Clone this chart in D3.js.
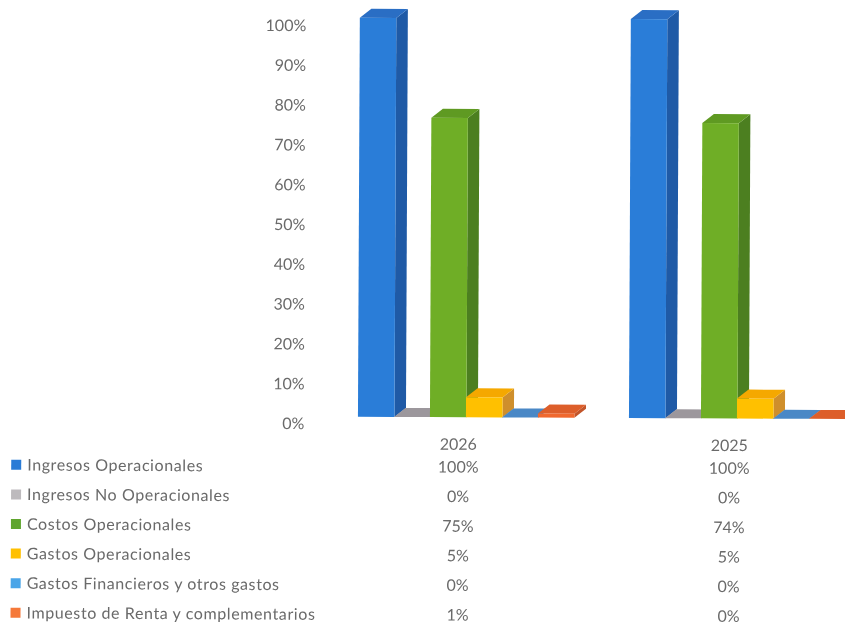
<!DOCTYPE html>
<html>
<head>
<meta charset="utf-8">
<script src="https://cdn.jsdelivr.net/npm/d3@7"></script>
<style>
  html, body { margin: 0; padding: 0; background: #fff; }
  text { font-family: Lato, "Open Sans", sans-serif; fill: #6a6a6a; }
</style>
</head>
<body>
<div id="container"></div>
<script>
/* DATA */
const years = ["2026", "2025"];
const categories = [
  "Ingresos Operacionales",
  "Ingresos No Operacionales",
  "Costos Operacionales",
  "Gastos Operacionales",
  "Gastos Financieros y otros gastos",
  "Impuesto de Renta y complementarios"
];
const values2026 = [100, 0, 75, 5, 0, 1];
const values2025 = [100, 0, 74, 5, 0, 0];
const yTicks = [0, 10, 20, 30, 40, 50, 60, 70, 80, 90, 100];

/* COLORS */
const frontColors = ["#2a7dd8", "#a8a4a8", "#6fae26", "#ffc000", "#4a8fd0", "#f0682e"];
const topColors = ["#2a6ec4", "#9c979c", "#5f9a22", "#f5a800", "#4a88c6", "#dd5e2a"];
const sideColors = ["#1f5aa6", "#8a858a", "#4c7f20", "#cf8f2c", "#3f78b0", "#c2552a"];
const legendColors = ["#2a7bd6", "#bdbabd", "#5fa52e", "#ffc000", "#4aa5e8", "#f5793a"];

const width = 845, height = 625;
const depthX = 11.5, depthY = 9;

const svg = d3.select("#container")
  .append("svg")
  .attr("width", width)
  .attr("height", height)
  .style("display", "block")
  .style("filter", "blur(0.4px)"); // soft like the scan

// the original is a slightly crooked scan
const chart = svg.append("g")
  .attr("transform", "rotate(0.27 420 300)");

/* SCALES */
const yScale = d3.scaleLinear().domain([0, 100]).range([417, 18]);
const xGroup = d3.scaleBand().domain(years).range([358.5, 845.5]).paddingInner(0.203);
const xBar = d3.scaleBand().domain(categories).range([0, xGroup.bandwidth()]);

/* Y AXIS - labels sit a little under the front of the bars */
const yAxis = d3.axisLeft(yScale.copy().range([424, 26]))
  .tickValues(yTicks)
  .tickSize(0)
  .tickFormat(d => d + "%");

const yAxisGroup = chart.append("g")
  .attr("transform", "translate(308,0)")
  .call(yAxis);
yAxisGroup.select(".domain").remove();
yAxisGroup.selectAll("text").style("font-size", "16px");

/* BARS */
const rows = [
  { year: "2026", values: values2026 },
  { year: "2025", values: values2025 }
];

rows.forEach(row => {
  const group = chart.append("g")
    .attr("transform", `translate(${xGroup(row.year)},0)`);

  categories.forEach((cat, i) => {
    const x0 = xBar(cat), x1 = x0 + xBar.bandwidth() + 0.5;
    const y0 = yScale(0), y1 = yScale(row.values[i]);
    const bar = group.append("g").attr("class", "bar");

    // right side
    bar.append("path")
      .attr("fill", sideColors[i])
      .attr("d", `M${x1},${y0}L${x1 + depthX},${y0 - depthY}L${x1 + depthX},${y1 - depthY}L${x1},${y1}Z`);
    // top
    bar.append("path")
      .attr("fill", topColors[i])
      .attr("d", `M${x0},${y1}L${x0 + depthX},${y1 - depthY}L${x1 + depthX},${y1 - depthY}L${x1},${y1}Z`);
    // front
    bar.append("rect")
      .attr("x", x0)
      .attr("y", y1)
      .attr("width", x1 - x0)
      .attr("height", y0 - y1)
      .attr("fill", frontColors[i]);
  });
});

/* DATA TABLE UNDER THE CHART */
const rowScale = d3.scalePoint().domain(categories).range([466.7, 614.7]);
const colCenter = y => xGroup(y) + xGroup.bandwidth() / 2 - 7.5;

const legend = chart.selectAll(".legend")
  .data(categories)
  .join("g")
  .attr("class", "legend")
  .attr("transform", d => `translate(0,${rowScale(d)})`);

legend.append("rect")
  .attr("x", 12)
  .attr("y", -5)
  .attr("width", 10)
  .attr("height", 10)
  .attr("fill", (d, i) => legendColors[i]);

legend.append("text")
  .attr("x", 28)
  .attr("dy", "0.35em")
  .style("font-size", "16px")
  .style("letter-spacing", "0.6px")
  .text(d => d);

rows.forEach(row => {
  chart.append("text")
    .attr("x", colCenter(row.year))
    .attr("y", 444)
    .attr("dy", "0.35em")
    .attr("text-anchor", "middle")
    .style("font-size", "16px")
    .text(row.year);

  chart.selectAll(".val" + row.year)
    .data(row.values)
    .join("text")
    .attr("x", colCenter(row.year))
    .attr("y", (d, i) => rowScale(categories[i]))
    .attr("dy", "0.35em")
    .attr("text-anchor", "middle")
    .style("font-size", "16px")
    .text(d => d + "%");
});
</script>
</body>
</html>
